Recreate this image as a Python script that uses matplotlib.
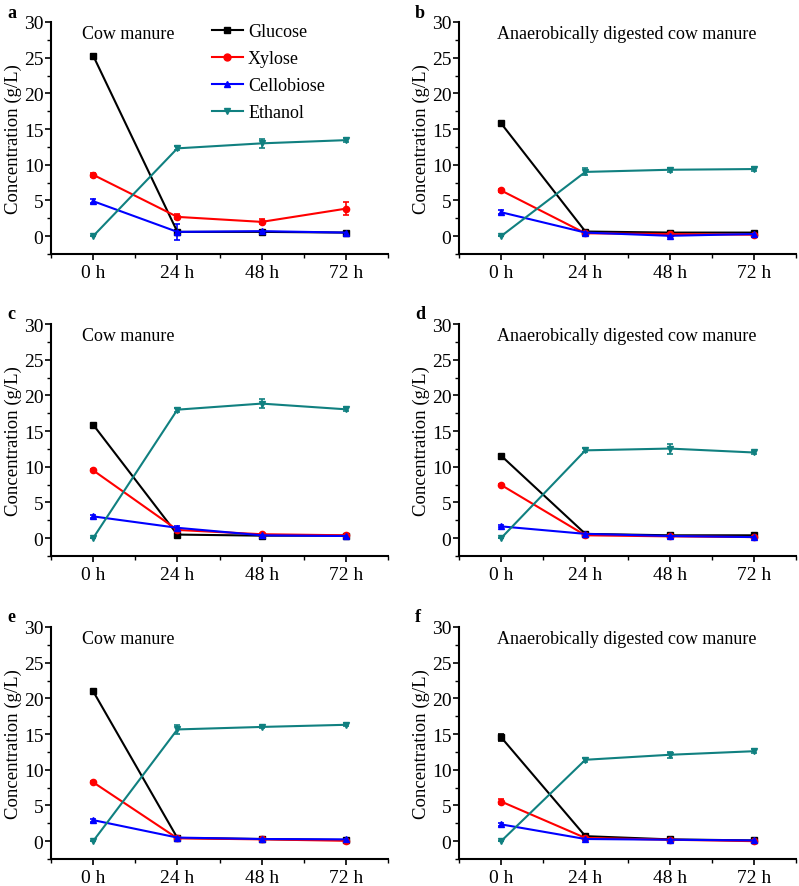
import matplotlib
matplotlib.use('Agg')
import matplotlib.pyplot as plt
from matplotlib.ticker import MultipleLocator
from matplotlib.lines import Line2D

plt.rcParams['font.family'] = ['Liberation Serif', 'DejaVu Serif']
plt.rcParams['font.size'] = 13

hours = [0, 24, 48, 72]
hour_labels = ['0 h', '24 h', '48 h', '72 h']
series_names = ['Glucose', 'Xylose', 'Cellobiose', 'Ethanol']
panel_letters = ['a', 'b', 'c', 'd', 'e', 'f']
panel_titles = ['Cow manure', 'Anaerobically digested cow manure'] * 3

# values per panel: glucose, xylose, cellobiose, ethanol
glucose = [
    [25.3, 0.6, 0.6, 0.5],
    [15.8, 0.65, 0.5, 0.5],
    [15.9, 0.5, 0.35, 0.35],
    [11.55, 0.6, 0.4, 0.4],
    [21.0, 0.45, 0.3, 0.15],
    [14.55, 0.7, 0.25, 0.1],
]
glucose_err = [
    [0.2, 0.2, 0.1, 0.1],
    [0.15, 0.1, 0.1, 0.1],
    [0.1, 0.1, 0.1, 0.1],
    [0.1, 0.1, 0.1, 0.1],
    [0.1, 0.1, 0.1, 0.1],
    [0.5, 0.2, 0.1, 0.1],
]
xylose = [
    [8.6, 2.7, 2.0, 3.85],
    [6.4, 0.4, 0.3, 0.2],
    [9.5, 1.15, 0.55, 0.4],
    [7.45, 0.4, 0.25, 0.15],
    [8.25, 0.4, 0.25, 0.05],
    [5.55, 0.45, 0.2, 0.0],
]
xylose_err = [
    [0.25, 0.35, 0.35, 0.9],
    [0.15, 0.1, 0.1, 0.1],
    [0.15, 0.1, 0.1, 0.1],
    [0.15, 0.1, 0.1, 0.1],
    [0.15, 0.1, 0.1, 0.1],
    [0.35, 0.1, 0.1, 0.1],
]
cellobiose = [
    [4.9, 0.6, 0.7, 0.5],
    [3.35, 0.5, 0.05, 0.3],
    [3.05, 1.45, 0.4, 0.3],
    [1.65, 0.6, 0.3, 0.15],
    [2.95, 0.5, 0.3, 0.25],
    [2.35, 0.3, 0.2, 0.1],
]
cellobiose_err = [
    [0.3, 1.1, 0.2, 0.15],
    [0.3, 0.1, 0.1, 0.1],
    [0.2, 0.2, 0.1, 0.1],
    [0.15, 0.1, 0.1, 0.1],
    [0.2, 0.1, 0.1, 0.1],
    [0.2, 0.1, 0.1, 0.1],
]
ethanol = [
    [0.0, 12.3, 13.0, 13.45],
    [0.0, 9.0, 9.3, 9.4],
    [0.0, 18.0, 18.85, 18.05],
    [0.0, 12.3, 12.55, 12.0],
    [0.0, 15.65, 16.0, 16.3],
    [0.0, 11.4, 12.1, 12.6],
]
ethanol_err = [
    [0.0, 0.3, 0.6, 0.3],
    [0.0, 0.5, 0.3, 0.3],
    [0.0, 0.3, 0.6, 0.3],
    [0.0, 0.3, 0.7, 0.2],
    [0.0, 0.6, 0.2, 0.2],
    [0.0, 0.3, 0.4, 0.3],
]

colors = ['black', '#ff0000', '#0000ff', '#108080']
markers = ['s', 'o', '^', 'v']

fig = plt.figure(figsize=(7.99, 8.87), dpi=100)

W, H = 799.0, 887.0
lefts = [51, 459]
tops = [23, 325, 628]
ax_w = 337
ax_h = 232

for i in range(6):
    row, col = i // 2, i % 2
    ax = fig.add_axes([lefts[col] / W, (H - tops[row] - ax_h) / H, ax_w / W, ax_h / H])
    data = [glucose[i], xylose[i], cellobiose[i], ethanol[i]]
    errs = [glucose_err[i], xylose_err[i], cellobiose_err[i], ethanol_err[i]]
    for k in range(4):
        ax.errorbar(hours, data[k], yerr=errs[k], color=colors[k], marker=markers[k],
                    markersize=4.5, linewidth=1.5, capsize=2.5, elinewidth=1.2,
                    capthick=1.2)
    ax.set_xlim(-12, 84)
    ax.set_ylim(-2.5, 30)
    ax.set_xticks(hours)
    ax.set_xticklabels(hour_labels)
    ax.set_xticks([-12, 12, 36, 60, 84], minor=True)
    ax.set_yticks([0, 5, 10, 15, 20, 25, 30])
    ax.yaxis.set_minor_locator(MultipleLocator(2.5))
    ax.spines['top'].set_visible(False)
    ax.spines['right'].set_visible(False)
    ax.spines['left'].set_bounds(-2.5, 30)
    ax.spines['left'].set_linewidth(1.5)
    ax.spines['bottom'].set_linewidth(1.5)
    ax.tick_params(which='major', direction='out', length=4, width=1.2, labelsize=14)
    ax.tick_params(which='minor', direction='out', length=3, width=1.0)
    ax.tick_params(axis='x', which='major', pad=3)
    ax.tick_params(axis='y', which='major', pad=1.5)
    ax.set_ylabel('Concentration (g/L)', fontsize=13.5, labelpad=1)
    if col == 0:
        ax.text(0.092, 0.985, panel_titles[i], transform=ax.transAxes, fontsize=13,
                ha='left', va='top')
    else:
        ax.text(0.497, 0.985, panel_titles[i], transform=ax.transAxes, fontsize=13,
                ha='center', va='top')
    fig.text((lefts[col] - 44) / W, 1 - (tops[row] - 10) / H, panel_letters[i],
             fontsize=13, fontweight='bold', ha='left', va='center')
    if i == 0:
        handles = [Line2D([], [], color=colors[k], marker=markers[k], markersize=5,
                          linewidth=1.5) for k in range(4)]
        ax.legend(handles, series_names, loc='upper left', bbox_to_anchor=(0.44, 1.05),
                  frameon=False, handlelength=1.7, handletextpad=0.3,
                  labelspacing=0.55, borderpad=0.2, fontsize=13)

fig.savefig('out.png', dpi=100)
